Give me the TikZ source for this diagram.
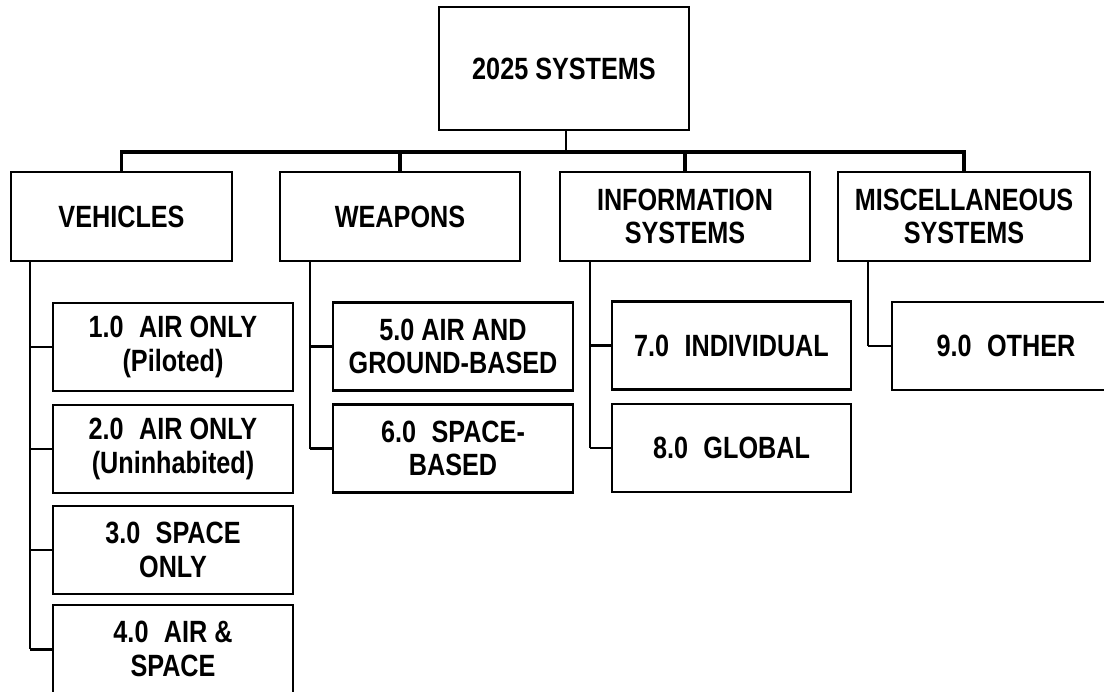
\documentclass[tikz,border=0pt]{standalone}
\usepackage{fontspec}
\setmainfont{Liberation Sans}[FakeStretch=0.82]
\usepackage{tikz}

\begin{document}
\begin{tikzpicture}[x=0.02cm,y=-0.02cm,
    box/.style={draw,line width=1.2pt,align=center,inner sep=0pt,
      font=\fontsize{17.5}{19}\selectfont\bfseries},
    cat/.style={box,minimum height=1.78cm},
    sub/.style={box,minimum width=4.8cm,minimum height=1.76cm},
    bus/.style={line width=1.9pt,line join=miter},
    branch/.style={line width=1.1pt},
    stub/.style={line width=1.7pt}]
  \useasboundingbox (0,0) rectangle (1104,692);
  \node[box,minimum width=5cm,minimum height=2.46cm] (top) at (564,68.5) {2025 SYSTEMS};
  \node[cat,minimum width=4.42cm] (veh)  at (121.5,216.5) {VEHICLES};
  \node[cat,minimum width=4.8cm]  (wpn)  at (400,216.5) {WEAPONS};
  \node[cat,minimum width=5cm]    (info) at (685,216.5) {INFORMATION\\SYSTEMS};
  \node[cat,minimum width=5.04cm] (misc) at (964,216.5) {MISCELLANEOUS\\SYSTEMS};
  % vehicles
  \node[sub] (air1)  at (173,347) {1.0\enspace AIR ONLY\\(Piloted)};
  \node[sub] (air2)  at (173,449) {2.0\enspace AIR ONLY\\(Uninhabited)};
  \node[sub] (spc)   at (173,550) {3.0\enspace SPACE\\ONLY};
  \node[sub] (airsp) at (173,649) {4.0\enspace AIR \&\\SPACE};
  % weapons
  \node[sub] (gnd)   at (453,346.5) {5.0 AIR AND\\GROUND-BASED};
  \node[sub] (spb)   at (453,448.5) {6.0\enspace SPACE-\\BASED};
  % information systems
  \node[sub,minimum width=4.78cm] (indiv) at (731.5,345.5) {7.0\enspace INDIVIDUAL};
  \node[sub,minimum width=4.78cm] (glob)  at (731.5,448) {8.0\enspace GLOBAL};
  % miscellaneous
  \node[sub,minimum width=4.56cm] (other) at (1006,346) {9.0\enspace OTHER};

  \coordinate (hub) at (566,152);
  \draw[branch] (top.south -| hub) -- (hub);
  \draw[bus] (veh.north) |- (hub) -| (misc.north);
  \draw[bus] (wpn.north) -- (wpn.north |- hub);
  \draw[bus] (info.north) -- (info.north |- hub);

  \coordinate (vx) at ([xshift=-0.44cm]air1.west);
  \draw[branch] (veh.south -| vx) -- (vx |- airsp.west);
  \foreach \n in {air1,air2,spc,airsp} \draw[stub] (vx |- \n.west) -- (\n.west);
  \coordinate (wx) at ([xshift=-0.44cm]gnd.west);
  \draw[branch] (wpn.south -| wx) -- (wx |- spb.west);
  \foreach \n in {gnd,spb} \draw[stub] (wx |- \n.west) -- (\n.west);
  \coordinate (ix) at ([xshift=-0.42cm]indiv.west);
  \draw[branch] (info.south -| ix) -- (ix |- glob.west);
  \foreach \n in {indiv,glob} \draw[stub] (ix |- \n.west) -- (\n.west);
  \coordinate (mx) at ([xshift=-0.46cm]other.west);
  \draw[branch] (misc.south -| mx) -- (mx |- other.west);
  \draw[stub] (mx |- other.west) -- (other.west);
\end{tikzpicture}
\end{document}
